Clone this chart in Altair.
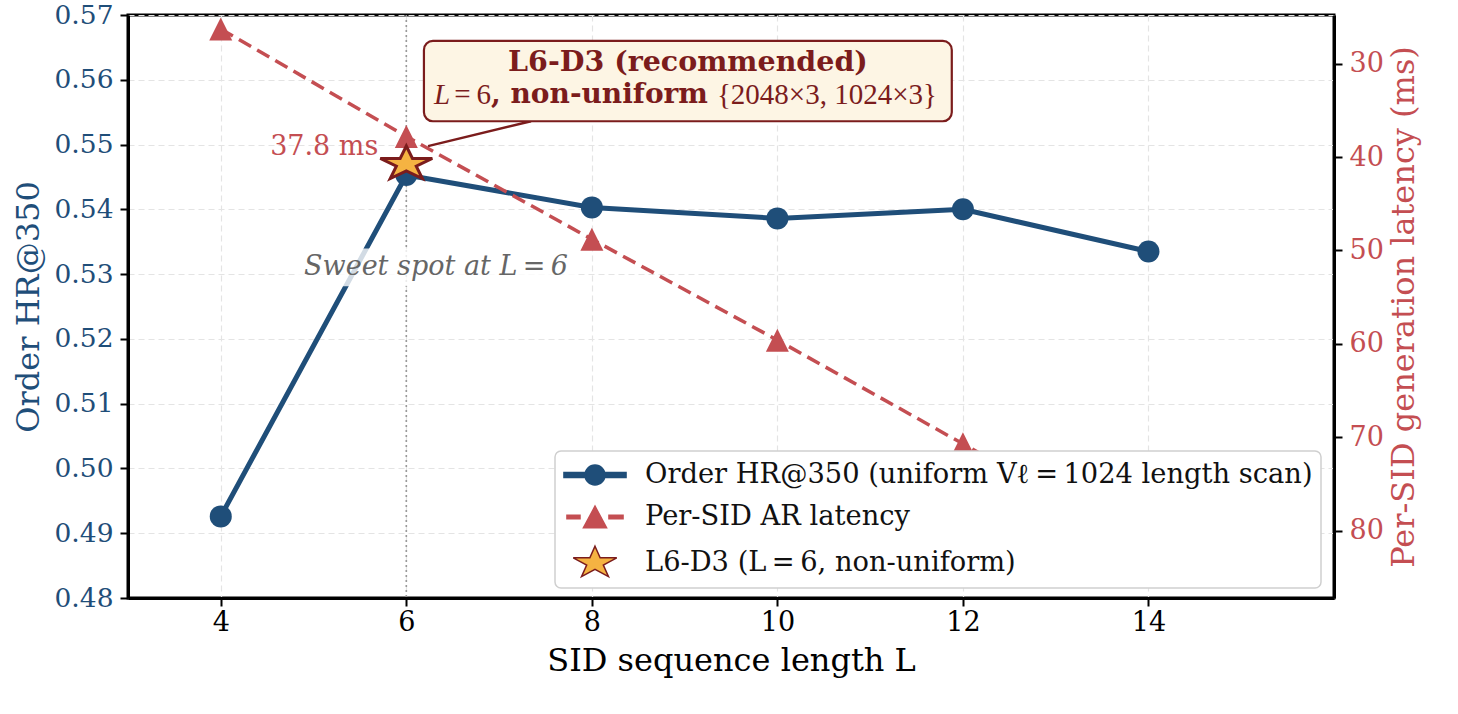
import altair as alt
import pandas as pd

# ---------------- data ----------------
L_values = [4, 6, 8, 10, 12, 14]
hr_values = [0.4926, 0.5453, 0.5403, 0.5386, 0.5400, 0.5335]
latency_ms = [26.3, 37.8, 48.8, 59.6, 70.7, 81.8]

rec_L = 6
rec_hr = 0.547
rec_latency = 37.8

x_ticks = [4, 6, 8, 10, 12, 14]
hr_ticks = [0.48, 0.49, 0.50, 0.51, 0.52, 0.53, 0.54, 0.55, 0.56, 0.57]
lat_ticks = [30, 40, 50, 60, 70, 80]

series_names = [
    "Order HR@350 (uniform V\u2113\u2009=\u20091024 length scan)",
    "Per-SID AR latency",
    "L6-D3 (L\u2009=\u20096, non-uniform)",
]

# annotation anchors (data coordinates)
box_x = [6.19, 11.88]
box_y = [0.5660, 0.5536]
arrow_from = [7.344, 0.5536]
arrow_to = [6.234, 0.54976]
title_pos = [9.036, 0.5628]
line2_y = 0.55758
sweet_pos = [6.32, 0.53106]
sweet_box_x = [4.83, 7.82]
sweet_box_y = [0.53397, 0.52814]

# ---------------- style ----------------
FONT = "DejaVu Serif"
MATH = "Liberation Serif"
BLUE = "#1f4e79"
RED = "#c44e52"
DARK = "#7b1c1c"
GOLD = "#f5b342"
GRID = "#e4e4e4"

STAR = ("M0,-0.9 L0.307,-0.278 L1.301,-0.278 L0.497,0.106 L0.804,0.728 "
        "L0,0.344 L-0.804,0.728 L-0.497,0.106 L-1.301,-0.278 L-0.307,-0.278 Z")
TRI = "M0,-1 L1,1 L-1,1 Z"
LEG_LINE = ("M-2.07,-0.17 L-0.6,-0.17 L-0.6,0.17 L-2.07,0.17 Z "
            "M0.6,-0.17 L2.07,-0.17 L2.07,0.17 L0.6,0.17 Z "
            "M0.667,0 A0.667,0.667 0 1 1 -0.667,0 A0.667,0.667 0 1 1 0.667,0 Z")
LEG_DASH = ("M-1.87,-0.12 L-1.0,-0.12 L-1.0,0.12 L-1.87,0.12 Z "
            "M0.93,-0.12 L1.87,-0.12 L1.87,0.12 L0.93,0.12 Z "
            "M0,-0.72 L0.77,0.72 L-0.77,0.72 Z")
LEG_STAR = ("M0,-1.12 L0.343,-0.346 L1.45,-0.346 L0.555,0.132 L0.898,0.906 "
            "L0,0.428 L-0.898,0.906 L-0.555,0.132 L-1.45,-0.346 L-0.343,-0.346 Z")

xs = alt.Scale(domain=[3, 16], nice=False, zero=False)
x_axis = alt.Axis(
    values=x_ticks, format="d", title="SID sequence length L",
    grid=True, gridColor=GRID, gridDash=[6, 4], gridWidth=1.2,
    labelFont=FONT, labelFontSize=27, labelColor="black", labelPadding=3,
    titleFont=FONT, titleFontSize=32, titleFontWeight="normal", titleColor="black",
    titlePadding=10, tickSize=8, tickWidth=2, tickColor="black",
    domain=True, domainColor="black", domainWidth=3,
)
ys_left = alt.Scale(domain=[0.48, 0.57], nice=False, zero=False)
y_axis_left = alt.Axis(
    values=hr_ticks, format=".2f", title="Order HR@350",
    grid=True, gridColor=GRID, gridDash=[6, 4], gridWidth=1.2,
    labelFont=FONT, labelFontSize=26.5, labelColor=BLUE, labelPadding=7,
    titleFont=FONT, titleFontSize=32, titleFontWeight="normal", titleColor=BLUE,
    titlePadding=8, tickSize=8, tickWidth=2, tickColor="black",
    domain=True, domainColor="black", domainWidth=3,
)
ys_right = alt.Scale(domain=[24.8, 87.2], nice=False, zero=False, reverse=True)
y_axis_right = alt.Axis(
    orient="right", values=lat_ticks, format="d",
    title="Per-SID generation latency (ms)", grid=False,
    labelFont=FONT, labelFontSize=27, labelColor=RED, labelPadding=7,
    titleFont=FONT, titleFontSize=32, titleFontWeight="normal", titleColor=RED,
    titleAngle=270, titleBaseline="top", titlePadding=5,
    tickSize=8, tickWidth=2, tickColor="black",
    domain=True, domainColor="black", domainWidth=3,
)


def X(f):
    return alt.X(f"{f}:Q", scale=xs, axis=x_axis)


def YL(f):
    return alt.Y(f"{f}:Q", scale=ys_left, axis=y_axis_left)


def YT(f):
    return alt.Y(f"{f}:Q", scale=ys_left, axis=None)


def YR(f):
    return alt.Y(f"{f}:Q", scale=ys_right, axis=y_axis_right)


df = pd.DataFrame({"L": L_values, "hr": hr_values, "lat": latency_ms})
rec_df = pd.DataFrame({"L": [rec_L], "hr": [rec_hr], "lat": [rec_latency],
                       "label": [f"{rec_latency} ms"]})

# ---------------- left (HR) group ----------------
vrule = alt.Chart(pd.DataFrame({"L": [rec_L]})).mark_rule(
    color="#999999", strokeWidth=1.6, strokeDash=[2, 3]
).encode(x=X("L"))

hr_line = alt.Chart(df).mark_line(color=BLUE, strokeWidth=5).encode(x=X("L"), y=YL("hr"))
hr_pts = alt.Chart(df).mark_point(
    filled=True, shape="circle", size=484, color=BLUE, opacity=1
).encode(x=X("L"), y=YL("hr"))

left = alt.layer(vrule, hr_line, hr_pts)

# ---------------- right (latency) group ----------------
lat_line = alt.Chart(df).mark_line(
    color=RED, strokeWidth=3.5, strokeDash=[14, 7]
).encode(x=X("L"), y=YR("lat"))
lat_pts = alt.Chart(df).mark_point(
    filled=True, shape=TRI, size=529, color=RED, opacity=1
).encode(x=X("L"), y=YR("lat"))
lat_text = alt.Chart(rec_df).mark_text(
    align="right", baseline="middle", dx=-28, dy=11, font=FONT, fontSize=27, color=RED
).encode(x=X("L"), y=YR("lat"), text="label:N")

right = alt.layer(lat_line, lat_pts, lat_text)

# ---------------- top group (star, annotations, legend) ----------------
star = alt.Chart(rec_df).mark_point(
    filled=True, shape=STAR, size=1600, fill=GOLD, stroke=DARK, strokeWidth=3, opacity=1
).encode(x=X("L"), y=YT("hr"))

arrow = alt.Chart(pd.DataFrame({"x": [arrow_from[0]], "y": [arrow_from[1]],
                                "x2": [arrow_to[0]], "y2": [arrow_to[1]]})).mark_rule(
    color=DARK, strokeWidth=2.5
).encode(x=X("x"), y=YT("y"), x2="x2:Q", y2="y2:Q")

box = alt.Chart(pd.DataFrame({"x": [box_x[0]], "x2": [box_x[1]],
                              "y": [box_y[0]], "y2": [box_y[1]]})).mark_rect(
    fill="#fdf5e4", stroke=DARK, strokeWidth=2.2, cornerRadius=9
).encode(x=X("x"), x2="x2:Q", y=YT("y"), y2="y2:Q")


def label(x, y, text, **kw):
    d = pd.DataFrame({"x": [x], "y": [y], "t": [text]})
    return alt.Chart(d).mark_text(baseline="middle", **kw).encode(
        x=X("x"), y=YT("y"), text="t:N")


t1 = label(title_pos[0], title_pos[1], "L6-D3 (recommended)", align="center",
           font=FONT, fontSize=28.5, fontWeight="bold", color=DARK)
t2a = label(6.298, line2_y, "L", align="left", font=MATH, fontSize=29,
            fontStyle="italic", color=DARK)
t2b = label(6.913, line2_y, "=\u20096", align="right", font=MATH, fontSize=29, color=DARK)
t2c = label(6.913, line2_y, ", non-uniform", align="left", font=FONT, fontSize=28,
            fontWeight="bold", color=DARK)
t2d = label(11.72, line2_y, "{2048\u00d73, 1024\u00d73}", align="right", font=MATH,
            fontSize=29, color=DARK)

sweet_bg = alt.Chart(pd.DataFrame({"x": [sweet_box_x[0]], "x2": [sweet_box_x[1]],
                                   "y": [sweet_box_y[0]], "y2": [sweet_box_y[1]]})).mark_rect(
    fill="white", opacity=0.8
).encode(x=X("x"), x2="x2:Q", y=YT("y"), y2="y2:Q")
sweet = label(sweet_pos[0], sweet_pos[1], "Sweet spot at L\u2009=\u20096", align="center",
              font=FONT, fontSize=27, fontStyle="italic", color="#666666")

leg = alt.Legend(
    title=None, orient="none", legendX=427, legendY=436,
    fillColor="white", strokeColor="#cfcfcf", cornerRadius=6,
    padding=8, symbolSize=900, symbolStrokeWidth=1.5, symbolOpacity=1,
    symbolOffset=16,
    labelFont=FONT, labelFontSize=27.3, labelColor="#111111", labelLimit=1000,
    labelOffset=34, rowPadding=12,
)
legend_df = pd.DataFrame({"series": series_names, "L": [None] * 3, "hr": [None] * 3})
legend_layer = alt.Chart(legend_df).mark_point(filled=True, opacity=1, strokeWidth=1.5).encode(
    x=X("L"), y=YT("hr"),
    color=alt.Color("series:N", scale=alt.Scale(domain=series_names, range=[BLUE, RED, GOLD]), legend=leg),
    shape=alt.Shape("series:N", scale=alt.Scale(domain=series_names, range=[LEG_LINE, LEG_DASH, LEG_STAR]), legend=leg),
    stroke=alt.Stroke("series:N", scale=alt.Scale(domain=series_names, range=[BLUE, RED, DARK]), legend=leg),
)

top = alt.layer(star, arrow, box, t1, t2a, t2b, t2c, t2d, sweet_bg, sweet, legend_layer)

chart = alt.layer(left, right, top).resolve_scale(y="independent").properties(
    width=1206, height=583,
    padding={"left": 128, "top": 15, "right": 124, "bottom": 116},
    autosize=alt.AutoSizeParams(type="none"),
    background="white",
).configure_view(stroke="black", strokeWidth=3).configure_legend(strokeWidth=1.5)

chart.save("out.html", embed_options={"renderer": "svg", "actions": False})
